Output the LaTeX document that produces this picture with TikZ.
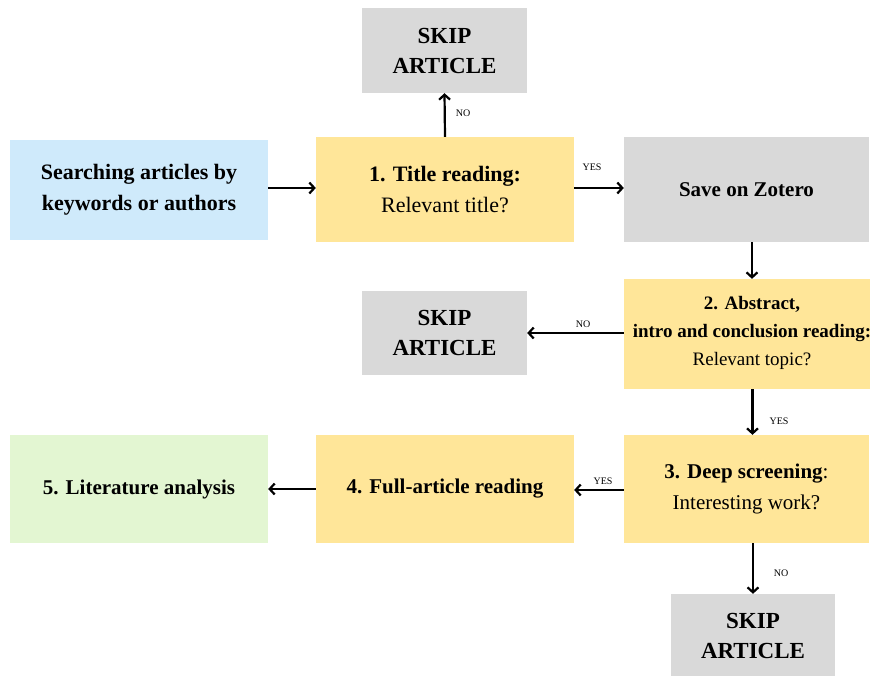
\documentclass[tikz,border=0pt]{standalone}
\usepackage{fontspec}
\setmainfont{Liberation Serif}
\usetikzlibrary{arrows.meta}
\definecolor{cblue}{RGB}{207,234,251}
\definecolor{cyellow}{RGB}{255,230,153}
\definecolor{cgray}{RGB}{217,217,217}
\definecolor{cgreen}{RGB}{227,246,210}
\tikzset{
  box/.style={rectangle, inner sep=0pt, align=center, font=\fontsize{22}{31}\selectfont},
  yellowbox/.style={box, fill=cyellow},
  graybox/.style={box, fill=cgray},
  skipbox/.style={box, fill=cgray, minimum width=165pt, font=\fontsize{23}{30}\selectfont\bfseries},
  conn/.style={line width=2.2pt, -{Straight Barb[length=5pt,width=11pt,line width=2.2pt]}},
  lab/.style={font=\fontsize{10}{12}\selectfont, inner sep=0pt}
}
\begin{document}
\begin{tikzpicture}[x=1pt,y=-1pt]
\useasboundingbox (0,0) rectangle (870,675);
% nodes
\node[box, fill=cblue, minimum width=258pt, minimum height=100pt] (search) at (139,190)
  {\bfseries Searching articles by\\\bfseries keywords or authors};
\node[yellowbox, minimum width=258pt, minimum height=105pt] (title) at (445,189.5)
  {\bfseries 1. Title reading:\\Relevant title?};
\node[skipbox, minimum height=85pt] (skip1) at (444.5,50.5) {SKIP\\ARTICLE};
\node[graybox, minimum width=245pt, minimum height=105pt, font=\fontsize{21}{30}\selectfont\bfseries] (zotero) at (746.5,189.5) {Save on Zotero};
\node[yellowbox, minimum width=246pt, minimum height=110pt] (abstract) at (747,334) {};
\node[inner sep=0pt, align=center, font=\fontsize{19}{28}\selectfont] (abstxt) at (752,333)
  {\bfseries 2. Abstract,\\\bfseries intro and conclusion reading:\\Relevant topic?};
\node[skipbox, minimum height=84pt] (skip2) at (444.5,333) {SKIP\\ARTICLE};
\node[yellowbox, minimum width=245pt, minimum height=108pt, font=\fontsize{21}{31}\selectfont] (deep) at (746.5,489)
  {\textbf{3. Deep screening}:\\Interesting work?};
\node[yellowbox, minimum width=258pt, minimum height=108pt, font=\fontsize{21}{31}\selectfont\bfseries] (full) at (445,489) {4. Full-article reading};
\node[box, fill=cgreen, minimum width=258pt, minimum height=108pt, font=\fontsize{21}{31}\selectfont\bfseries] (lit) at (139,489) {5. Literature analysis};
\node[skipbox, minimum width=164pt, minimum height=84pt] (skip3) at (753,636) {SKIP\\ARTICLE};
% connectors
\draw[conn] (search.east |- 0,188) -- (title.west |- 0,188);
\draw[conn] (title.north) -- (skip1.south);
\draw[conn] (title.east |- 0,188) -- (zotero.west |- 0,188);
\draw[conn] ([xshift=5.5pt]zotero.south) -- ([xshift=5.5pt]zotero.south |- abstract.north);
\draw[conn] (abstract.west |- 0,333) -- (skip2.east |- 0,333);
\draw[conn] ([xshift=5.5pt]abstract.south) -- ([xshift=5.5pt]abstract.south |- deep.north);
\draw[conn] (deep.west |- 0,490) -- (full.east |- 0,490);
\draw[conn] (full.west) -- (lit.east);
\draw[conn] (deep.south -| skip3.north) -- (skip3.north);
% labels
\node[lab] (l1) at (463,113) {NO};
\node[lab] (l2) at (592,167) {YES};
\node[lab] (l3) at (583,324) {NO};
\node[lab] (l4) at (779,421) {YES};
\node[lab] (l5) at (603,481) {YES};
\node[lab] (l6) at (781,573) {NO};
\end{tikzpicture}
\end{document}
